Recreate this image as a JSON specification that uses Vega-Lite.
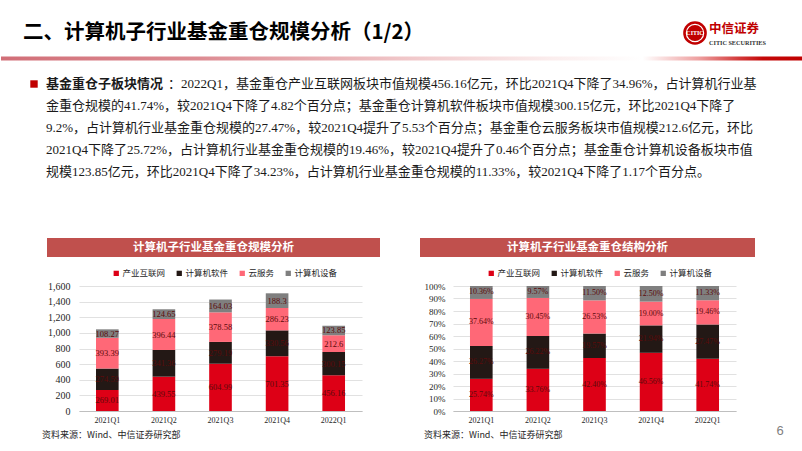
{
  "$schema": "https://vega.github.io/schema/vega-lite/v6.json",
  "padding": 0,
  "background": "#ffffff",
  "spacing": 0,
  "resolve": {"scale": {"color": "independent"}, "legend": {"color": "independent"}},
  "config": {
    "view": {"stroke": null},
    "font": "Noto Sans CJK SC",
    "axis": {"labelColor": "#262626"}
  },
  "datasets": {
    "d": [
      {"q": "2021Q1", "s": "产业互联网", "o": 1, "v": 269.01, "p": 0.2574},
      {"q": "2021Q1", "s": "计算机软件", "o": 2, "v": 274.59, "p": 0.2627},
      {"q": "2021Q1", "s": "云服务", "o": 3, "v": 393.39, "p": 0.3764},
      {"q": "2021Q1", "s": "计算机设备", "o": 4, "v": 108.27, "p": 0.1036},
      {"q": "2021Q2", "s": "产业互联网", "o": 1, "v": 439.55, "p": 0.3376},
      {"q": "2021Q2", "s": "计算机软件", "o": 2, "v": 341.36, "p": 0.2622},
      {"q": "2021Q2", "s": "云服务", "o": 3, "v": 396.44, "p": 0.3045},
      {"q": "2021Q2", "s": "计算机设备", "o": 4, "v": 124.65, "p": 0.0957},
      {"q": "2021Q3", "s": "产业互联网", "o": 1, "v": 604.99, "p": 0.4240},
      {"q": "2021Q3", "s": "计算机软件", "o": 2, "v": 279.19, "p": 0.1957},
      {"q": "2021Q3", "s": "云服务", "o": 3, "v": 378.58, "p": 0.2653},
      {"q": "2021Q3", "s": "计算机设备", "o": 4, "v": 164.03, "p": 0.1150},
      {"q": "2021Q4", "s": "产业互联网", "o": 1, "v": 701.35, "p": 0.4656},
      {"q": "2021Q4", "s": "计算机软件", "o": 2, "v": 330.56, "p": 0.2194},
      {"q": "2021Q4", "s": "云服务", "o": 3, "v": 286.23, "p": 0.1900},
      {"q": "2021Q4", "s": "计算机设备", "o": 4, "v": 188.3, "p": 0.1250},
      {"q": "2022Q1", "s": "产业互联网", "o": 1, "v": 456.16, "p": 0.4174},
      {"q": "2022Q1", "s": "计算机软件", "o": 2, "v": 300.15, "p": 0.2747},
      {"q": "2022Q1", "s": "云服务", "o": 3, "v": 212.6, "p": 0.1946},
      {"q": "2022Q1", "s": "计算机设备", "o": 4, "v": 123.85, "p": 0.1133}
    ]
  },
  "vconcat": [
    {
      "width": 802,
      "height": 60,
      "data": {"values": [{"t": "二、计算机子行业基金重仓规模分析（1/2）", "logo": "中信证券", "en": "CITIC SECURITIES", "c": "CITIC"}]},
      "layer": [
        {
          "mark": {"type": "rect", "color": {"gradient": "linear", "x1": 0, "x2": 1, "y1": 0, "y2": 0, "stops": [
            {"offset": 0, "color": "#d16e77"},
            {"offset": 0.25, "color": "#dd8c93"},
            {"offset": 0.5, "color": "#f0c6c8"},
            {"offset": 0.69, "color": "#fbeeee"},
            {"offset": 0.8, "color": "#ffffff"},
            {"offset": 0.87, "color": "#eea0a0"},
            {"offset": 0.92, "color": "#d33a3a"},
            {"offset": 0.95, "color": "#c40808"},
            {"offset": 1, "color": "#c00000"}
          ]}},
          "encoding": {
            "x": {"datum": 0, "type": "quantitative", "scale": {"domain": [0, 802], "nice": false, "zero": false}, "axis": null},
            "x2": {"datum": 802},
            "y": {"datum": 56.5, "type": "quantitative", "scale": {"domain": [0, 60], "nice": false, "zero": false, "reverse": true}, "axis": null},
            "y2": {"datum": 60.5}
          }
        },
        {
          "mark": {"type": "text", "align": "left", "baseline": "middle", "font": "Noto Sans CJK SC", "fontSize": 20.5, "fontWeight": "bold", "color": "#000000"},
          "encoding": {"text": {"field": "t"}, "x": {"datum": 22, "type": "quantitative"}, "y": {"datum": 33, "type": "quantitative"}}
        },
        {
          "mark": {"type": "point", "shape": "circle", "filled": true, "size": 560, "color": "#c00000", "opacity": 1},
          "encoding": {"x": {"datum": 694, "type": "quantitative"}, "y": {"datum": 33, "type": "quantitative"}}
        },
        {
          "mark": {"type": "point", "shape": "circle", "filled": false, "size": 300, "color": "#ffffff", "strokeWidth": 1.2, "opacity": 1},
          "encoding": {"x": {"datum": 694, "type": "quantitative"}, "y": {"datum": 33, "type": "quantitative"}}
        },
        {
          "mark": {"type": "text", "align": "center", "baseline": "middle", "font": "Liberation Sans Narrow", "fontSize": 6, "fontWeight": "bold", "color": "#ffffff"},
          "encoding": {"text": {"field": "c"}, "x": {"datum": 694, "type": "quantitative"}, "y": {"datum": 33, "type": "quantitative"}}
        },
        {
          "mark": {"type": "text", "align": "left", "baseline": "middle", "font": "Noto Sans CJK SC", "fontSize": 12.5, "fontWeight": "bold", "color": "#c00000"},
          "encoding": {"text": {"field": "logo"}, "x": {"datum": 708, "type": "quantitative"}, "y": {"datum": 29, "type": "quantitative"}}
        },
        {
          "mark": {"type": "text", "align": "left", "baseline": "middle", "font": "Liberation Sans Narrow", "fontSize": 6.2, "fontWeight": "bold", "color": "#333333"},
          "encoding": {"text": {"field": "en"}, "x": {"datum": 708, "type": "quantitative"}, "y": {"datum": 43, "type": "quantitative"}}
        }
      ]
    },
    {
      "width": 802,
      "height": 177,
      "layer": [
        {
          "data": {"values": [{"line": 1}]},
          "mark": {"type": "point", "shape": "square", "filled": true, "size": 55, "color": "#c00000", "opacity": 1},
          "encoding": {
            "x": {"datum": 33, "type": "quantitative", "scale": {"domain": [0, 802], "nice": false, "zero": false}, "axis": null},
            "y": {"field": "line", "type": "quantitative", "scale": {"domain": [-0.04545, 8], "nice": false, "zero": false, "reverse": true}, "axis": null}
          }
        },
        {
          "data": {"values": [{"line": 1, "t": "基金重仓子板块情况"}]},
          "mark": {"type": "text", "align": "left", "baseline": "middle", "font": "Noto Sans CJK SC", "fontSize": 13, "fontWeight": "bold", "color": "#1a1a1a"},
          "encoding": {
            "text": {"field": "t"},
            "x": {"datum": 45, "type": "quantitative"},
            "y": {"field": "line", "type": "quantitative"}
          }
        },
        {
          "data": {"values": [{"line": 1, "t": "：2022Q1，基金重仓产业互联网板块市值规模456.16亿元，环比2021Q4下降了34.96%，占计算机行业基"}]},
          "mark": {"type": "text", "align": "left", "baseline": "middle", "font": "Liberation Serif, Noto Sans CJK SC", "fontSize": 13, "color": "#1a1a1a"},
          "encoding": {
            "text": {"field": "t"},
            "x": {"datum": 167, "type": "quantitative"},
            "y": {"field": "line", "type": "quantitative"}
          }
        },
        {
          "data": {"values": [
            {"line": 2, "t": "金重仓规模的41.74%，较2021Q4下降了4.82个百分点；基金重仓计算机软件板块市值规模300.15亿元，环比2021Q4下降了"},
            {"line": 3, "t": "9.2%，占计算机行业基金重仓规模的27.47%，较2021Q4提升了5.53个百分点；基金重仓云服务板块市值规模212.6亿元，环比"},
            {"line": 4, "t": "2021Q4下降了25.72%，占计算机行业基金重仓规模的19.46%，较2021Q4提升了0.46个百分点；基金重仓计算机设备板块市值"},
            {"line": 5, "t": "规模123.85亿元，环比2021Q4下降了34.23%，占计算机行业基金重仓规模的11.33%，较2021Q4下降了1.17个百分点。"}
          ]},
          "mark": {"type": "text", "align": "left", "baseline": "middle", "font": "Liberation Serif, Noto Sans CJK SC", "fontSize": 13, "color": "#1a1a1a"},
          "encoding": {
            "text": {"field": "t"},
            "x": {"datum": 45, "type": "quantitative"},
            "y": {"field": "line", "type": "quantitative"}
          }
        }
      ]
    },
    {
      "spacing": 40,
      "resolve": {"scale": {"color": "independent"}, "legend": {"color": "independent"}},
      "hconcat": [
        {
          "width": 5,
          "height": 10,
          "data": {"values": [{"a": 1}]},
          "mark": {"type": "point", "opacity": 0},
          "encoding": {}
        },
        {
          "spacing": 12,
          "resolve": {"scale": {"color": "independent"}, "legend": {"color": "independent"}},
          "vconcat": [
            {
              "width": 283,
              "height": 19,
              "data": {"values": [{"t": "计算机子行业基金重仓规模分析"}]},
              "layer": [
                {
                  "mark": {"type": "rect", "color": "#c0504d"},
                  "encoding": {
                    "x": {"datum": -32, "type": "quantitative", "scale": {"domain": [0, 283], "nice": false, "zero": false}, "axis": null},
                    "x2": {"datum": 301},
                    "y": {"datum": 0, "type": "quantitative", "scale": {"domain": [0, 19], "nice": false, "zero": false, "reverse": true}, "axis": null},
                    "y2": {"datum": 19}
                  }
                },
                {
                  "mark": {"type": "text", "color": "#ffffff", "font": "Noto Sans CJK SC", "fontWeight": "bold", "fontSize": 11.5, "baseline": "middle", "align": "center"},
                  "encoding": {"text": {"field": "t"}, "x": {"datum": 134.5, "type": "quantitative"}, "y": {"datum": 9.5, "type": "quantitative"}}
                }
              ]
            },
            {
              "width": 283,
              "height": 125,
              "data": {"name": "d"},
              "encoding": {
                "x": {"field": "q", "type": "nominal", "sort": null, "scale": {"paddingInner": 0.6, "paddingOuter": 0.3},
                  "axis": {"title": null, "labelAngle": 0, "ticks": false, "domainColor": "#bfbfbf", "domainWidth": 1, "labelFont": "Liberation Serif", "labelFontSize": 8, "labelPadding": 5, "labelColor": "#262626"}},
                "y": {"field": "v", "type": "quantitative", "stack": "zero", "scale": {"domain": [0, 1600], "nice": false},
                  "axis": {"title": null, "values": [0, 200, 400, 600, 800, 1000, 1200, 1400, 1600], "format": ",.0f", "ticks": false, "domain": false, "gridColor": "#d9d9d9", "gridWidth": 0.8, "labelFont": "Liberation Serif", "labelFontSize": 10, "labelPadding": 9, "minExtent": 32, "labelOverlap": false, "labelColor": "#262626"}},
                "order": {"field": "o", "type": "quantitative"}
              },
              "layer": [
                {
                  "mark": {"type": "bar"},
                  "encoding": {
                    "color": {"field": "s", "type": "nominal",
                      "scale": {"domain": ["产业互联网", "计算机软件", "云服务", "计算机设备"], "range": ["#dd0016", "#231815", "#ff6877", "#7f7f7f"]},
                      "legend": {"title": null, "orient": "none", "legendX": 33, "legendY": -17, "direction": "horizontal", "symbolType": "square", "symbolSize": 28, "symbolStrokeWidth": 0, "labelFont": "Noto Sans CJK SC", "labelFontSize": 8.5, "labelColor": "#262626", "labelOffset": 2, "columnPadding": 9}}
                  }
                },
                {
                  "mark": {"type": "text", "font": "Liberation Serif", "fontSize": 8.5, "color": "#5c0a0a", "baseline": "middle", "align": "center"},
                  "encoding": {
                    "y": {"field": "v", "type": "quantitative", "stack": "zero", "bandPosition": 0.5},
                    "detail": {"field": "s"},
                    "text": {"field": "v", "type": "nominal"}
                  }
                }
              ]
            }
          ]
        },
        {
          "spacing": 12,
          "resolve": {"scale": {"color": "independent"}, "legend": {"color": "independent"}},
          "vconcat": [
            {
              "width": 283,
              "height": 19,
              "data": {"values": [{"t": "计算机子行业基金重仓结构分析"}]},
              "layer": [
                {
                  "mark": {"type": "rect", "color": "#c0504d"},
                  "encoding": {
                    "x": {"datum": -33, "type": "quantitative", "scale": {"domain": [0, 283], "nice": false, "zero": false}, "axis": null},
                    "x2": {"datum": 302},
                    "y": {"datum": 0, "type": "quantitative", "scale": {"domain": [0, 19], "nice": false, "zero": false, "reverse": true}, "axis": null},
                    "y2": {"datum": 19}
                  }
                },
                {
                  "mark": {"type": "text", "color": "#ffffff", "font": "Noto Sans CJK SC", "fontWeight": "bold", "fontSize": 11.5, "baseline": "middle", "align": "center"},
                  "encoding": {"text": {"field": "t"}, "x": {"datum": 134.5, "type": "quantitative"}, "y": {"datum": 9.5, "type": "quantitative"}}
                }
              ]
            },
            {
              "width": 283,
              "height": 125,
              "data": {"name": "d"},
              "encoding": {
                "x": {"field": "q", "type": "nominal", "sort": null, "scale": {"paddingInner": 0.6, "paddingOuter": 0.3},
                  "axis": {"title": null, "labelAngle": 0, "ticks": false, "domainColor": "#bfbfbf", "domainWidth": 1, "labelFont": "Liberation Serif", "labelFontSize": 8, "labelPadding": 5, "labelColor": "#262626"}},
                "y": {"field": "p", "type": "quantitative", "stack": "zero", "scale": {"domain": [0, 1], "nice": false},
                  "axis": {"title": null, "values": [0, 0.1, 0.2, 0.3, 0.4, 0.5, 0.6, 0.7, 0.8, 0.9, 1], "format": ".0%", "ticks": false, "domain": false, "gridColor": "#d9d9d9", "gridWidth": 0.8, "labelFont": "Liberation Serif", "labelFontSize": 9, "labelPadding": 8, "minExtent": 33, "labelOverlap": false, "labelColor": "#262626"}},
                "order": {"field": "o", "type": "quantitative"}
              },
              "layer": [
                {
                  "mark": {"type": "bar"},
                  "encoding": {
                    "color": {"field": "s", "type": "nominal",
                      "scale": {"domain": ["产业互联网", "计算机软件", "云服务", "计算机设备"], "range": ["#dd0016", "#231815", "#ff6877", "#7f7f7f"]},
                      "legend": {"title": null, "orient": "none", "legendX": 34, "legendY": -17, "direction": "horizontal", "symbolType": "square", "symbolSize": 28, "symbolStrokeWidth": 0, "labelFont": "Noto Sans CJK SC", "labelFontSize": 8.5, "labelColor": "#262626", "labelOffset": 2, "columnPadding": 9}}
                  }
                },
                {
                  "mark": {"type": "text", "font": "Liberation Serif", "fontSize": 8, "color": "#5c0a0a", "baseline": "middle", "align": "center"},
                  "encoding": {
                    "y": {"field": "p", "type": "quantitative", "stack": "zero", "bandPosition": 0.5},
                    "detail": {"field": "s"},
                    "text": {"field": "p", "type": "quantitative", "format": ".2%"}
                  }
                }
              ]
            }
          ]
        }
      ]
    },
    {
      "width": 802,
      "height": 24,
      "data": {"values": [{"src": "资料来源：Wind、中信证券研究部", "pg": "6"}]},
      "layer": [
        {
          "mark": {"type": "text", "align": "left", "baseline": "middle", "font": "Noto Sans CJK SC", "fontSize": 9, "color": "#262626"},
          "encoding": {
            "text": {"field": "src"},
            "x": {"datum": 41, "type": "quantitative", "scale": {"domain": [0, 802], "nice": false, "zero": false}, "axis": null},
            "y": {"datum": 11, "type": "quantitative", "scale": {"domain": [0, 24], "nice": false, "zero": false, "reverse": true}, "axis": null}
          }
        },
        {
          "mark": {"type": "text", "align": "left", "baseline": "middle", "font": "Noto Sans CJK SC", "fontSize": 9, "color": "#262626"},
          "encoding": {
            "text": {"field": "src"},
            "x": {"datum": 423, "type": "quantitative"},
            "y": {"datum": 11, "type": "quantitative"}
          }
        },
        {
          "mark": {"type": "text", "align": "center", "baseline": "middle", "font": "Liberation Sans", "fontSize": 13, "color": "#7f7f7f"},
          "encoding": {
            "text": {"field": "pg"},
            "x": {"datum": 779, "type": "quantitative"},
            "y": {"datum": 6.5, "type": "quantitative"}
          }
        }
      ]
    }
  ]
}
